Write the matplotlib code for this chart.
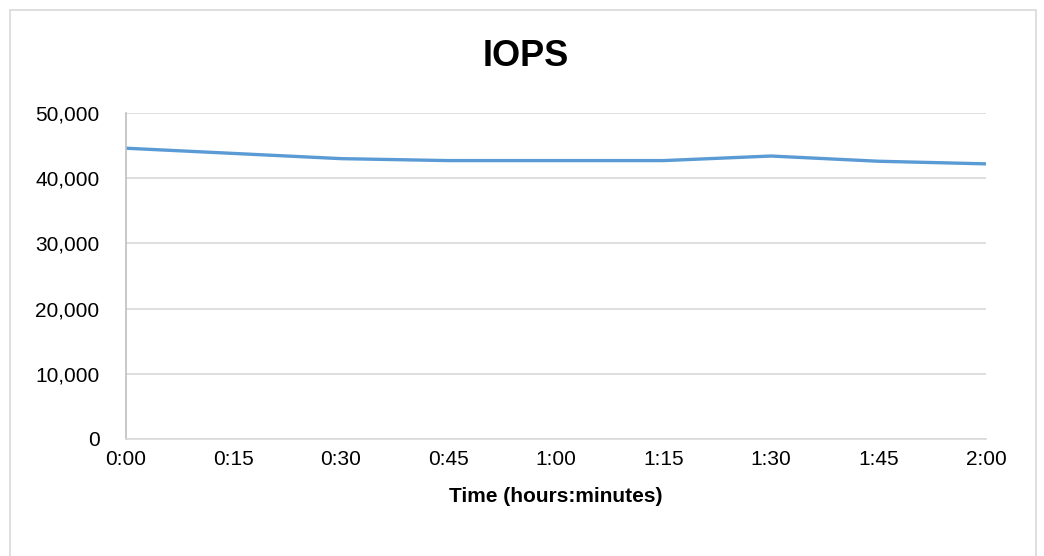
import numpy as np
import matplotlib.pyplot as plt
from matplotlib.patches import Rectangle
from matplotlib.ticker import FuncFormatter

times = ["0:00", "0:15", "0:30", "0:45", "1:00", "1:15", "1:30", "1:45", "2:00"]
iops = [44600, 43800, 43000, 42700, 42700, 42700, 43400, 42600, 42200]
y_ticks = [0, 10000, 20000, 30000, 40000, 50000]

plt.rcParams['font.family'] = ['Liberation Sans', 'DejaVu Sans']

fig = plt.figure(figsize=(10.44, 5.56), dpi=100)
ax = fig.add_axes([126 / 1044, 1 - 439 / 556, 860 / 1044, 326 / 556])

x = np.arange(len(times))
ax.plot(x, iops, color='#5B9BD5', linewidth=2.4, solid_capstyle='round')

ax.set_xlim(0, len(times) - 1)
ax.set_ylim(0, 50000)
ax.set_yticks(y_ticks)
ax.yaxis.set_major_formatter(FuncFormatter(lambda v, p: f"{int(v):,}"))
ax.set_xticks(x)
ax.set_xticklabels(times)
ax.tick_params(axis='both', length=0, labelsize=15, colors='#000000')
ax.tick_params(axis='y', pad=19)
ax.tick_params(axis='x', pad=8)
ax.grid(axis='y', color='#d9d9d9', linewidth=1.2)
ax.set_axisbelow(True)

for s in ['top', 'right']:
    ax.spines[s].set_visible(False)
ax.spines['left'].set_color('#bfbfbf')
ax.spines['left'].set_linewidth(1.2)
ax.spines['bottom'].set_color('#d9d9d9')
ax.spines['bottom'].set_linewidth(1.2)

ax.set_xlabel("Time (hours:minutes)", fontsize=15, fontweight='bold', labelpad=13)

fig.text(526 / 1044, 1 - 57 / 556, "IOPS", fontsize=26, fontweight='bold',
         ha='center', va='center')

# chart border
fig.patches.append(Rectangle((10 / 1044, -0.02), 1026 / 1044, 1 - 10 / 556 + 0.02,
                             transform=fig.transFigure, fill=False,
                             edgecolor='#d9d9d9', linewidth=1.2))

fig.savefig("out.png", dpi=100)
